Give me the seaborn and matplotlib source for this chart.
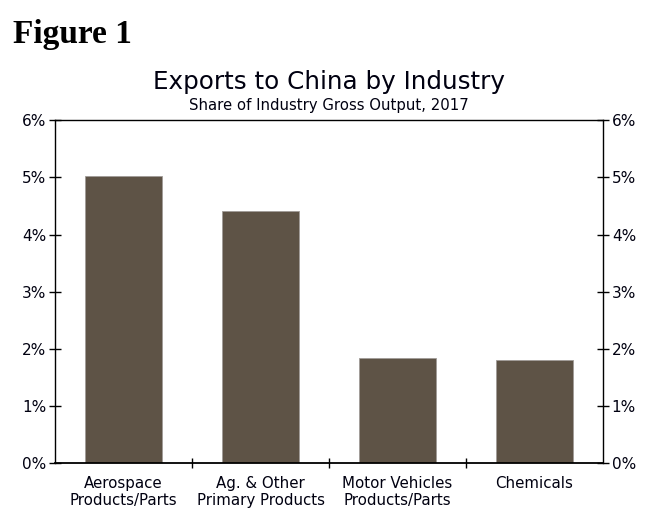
import numpy as np
import matplotlib
matplotlib.use("Agg")
import matplotlib.pyplot as plt
import seaborn as sns
from matplotlib.ticker import FixedLocator, FuncFormatter

industries = ["Aerospace\nProducts/Parts", "Ag. & Other\nPrimary Products",
              "Motor Vehicles\nProducts/Parts", "Chemicals"]
share = [5.02, 4.41, 1.84, 1.80]
yticks = [0, 1, 2, 3, 4, 5, 6]

sns.set_style("white")
plt.rcParams['font.family'] = ['DejaVu Sans']
plt.rcParams['text.color'] = '#000010'
plt.rcParams['xtick.color'] = 'black'
plt.rcParams['ytick.color'] = 'black'
plt.rcParams['xtick.labelcolor'] = '#000010'
plt.rcParams['ytick.labelcolor'] = '#000010'

fig = plt.figure(figsize=(6.59, 5.25), dpi=100)
ax = fig.add_axes([0.0835, 0.1175, 0.8316, 0.6533])

sns.barplot(x=industries, y=share, color="#5e5346", saturation=1, width=0.565,
            edgecolor="#a09c98", linewidth=0.6, ax=ax)

ax.set_ylim(0, 6)
ax.set_xlim(-0.5, 3.5)
ax.set_yticks(yticks)
ax.yaxis.set_major_formatter(FuncFormatter(lambda v, p: f"{v:.0f}%"))
ax.tick_params(axis="y", direction="inout", length=8.6, width=1, labelsize=11,
               left=True, right=True, labelleft=True, labelright=True, pad=2)
# category boundaries as ticks, labels as minor
ax.xaxis.set_major_locator(FixedLocator([0.5, 1.5, 2.5]))
ax.xaxis.set_major_formatter(FuncFormatter(lambda v, p: ""))
ax.xaxis.set_minor_locator(FixedLocator([0, 1, 2, 3]))
ax.set_xticklabels(industries, minor=True)
ax.tick_params(axis="x", which="major", direction="inout", length=7.5, width=1, bottom=True)
ax.tick_params(axis="x", which="minor", length=0, labelsize=10.8, pad=9)
for s in ax.spines.values():
    s.set_color("black")
    s.set_linewidth(1)
ax.spines["bottom"].set_linewidth(1.3)

fig.text(0.019, 0.9175, "Figure 1", fontsize=24, fontweight="bold",
         family="Liberation Serif", ha="left", va="baseline", color="black")
fig.text(0.4995, 0.843, "Exports to China by Industry", fontsize=17.7,
         ha="center", va="center")
fig.text(0.4995, 0.799, "Share of Industry Gross Output, 2017", fontsize=10.7,
         ha="center", va="center")

fig.savefig("out.png", dpi=100)
